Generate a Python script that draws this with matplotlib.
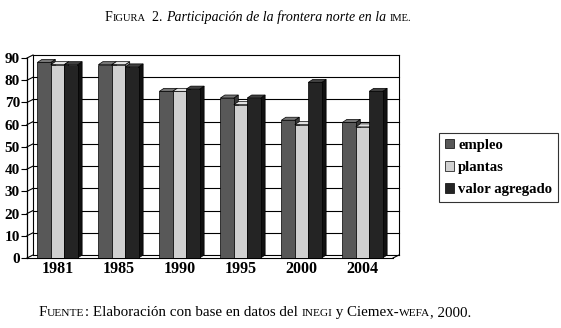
import matplotlib
matplotlib.use("Agg")
import matplotlib.pyplot as plt
from matplotlib.patches import Polygon
import numpy as np

# Data
years = ["1981", "1985", "1990", "1995", "2000", "2004"]
empleo = [88, 87, 75, 72, 62, 61]
plantas = [87, 87, 75, 69, 60, 59]
valor_agregado = [87, 86, 76, 72, 79, 75]
series_names = ["empleo", "plantas", "valor agregado"]
yticks = list(range(0, 100, 10))

colors = ["#585858", "#d0d0d0", "#242424"]
side_colors = ["#383838", "#a0a0a0", "#111111"]
top_colors = ["#767676", "#e2e2e2", "#404040"]

plt.rcParams["font.family"] = ["Liberation Serif", "DejaVu Serif"]

W, H = 561, 328
fig = plt.figure(figsize=(W / 100, H / 100), dpi=100)
fig.patch.set_facecolor("white")

# axes = front plane of the 3D chart (pixels from top-left)
left_px, right_px, top_px, bottom_px = 27, 393, 58, 258
ax = fig.add_axes([left_px / W, 1 - bottom_px / H,
                   (right_px - left_px) / W, (bottom_px - top_px) / H])
ax.set_xlim(-0.5, len(years) - 0.5)
ax.set_ylim(0, 90)
ax.set_facecolor("none")
for s in ["top", "right", "bottom"]:
    ax.spines[s].set_visible(False)
ax.spines["left"].set_linewidth(0.9)

px_x = (right_px - left_px) / (len(years))      # pixels per category
px_y = (bottom_px - top_px) / 90.0              # pixels per unit
wall_dx, wall_dy = 6 / px_x, 3 / px_y
bar_dx, bar_dy = 4.5 / px_x, 3 / px_y

# back wall and gridlines
x_lo, x_hi = -0.5, len(years) - 0.5
for v in yticks:
    ax.plot([x_lo + wall_dx, x_hi + wall_dx], [v + wall_dy, v + wall_dy],
            color="black", lw=0.8, clip_on=False, zorder=1)
    ax.plot([x_lo, x_lo + wall_dx], [v, v + wall_dy],
            color="black", lw=0.8, clip_on=False, zorder=1)
ax.plot([x_lo + wall_dx] * 2, [wall_dy, 90 + wall_dy], color="black", lw=0.8,
        clip_on=False, zorder=1)
ax.plot([x_hi + wall_dx] * 2, [wall_dy, 90 + wall_dy], color="black", lw=0.8,
        clip_on=False, zorder=1)
ax.plot([x_lo, x_hi], [0, 0], color="black", lw=0.8, clip_on=False, zorder=1)
ax.plot([x_hi, x_hi + wall_dx], [0, wall_dy], color="black", lw=0.8,
        clip_on=False, zorder=1)

# 3D-like bars
width = 0.22
x = np.arange(len(years))
all_series = [empleo, plantas, valor_agregado]
for j, vals in enumerate(all_series):
    xs = x + (j - 1) * width
    for xi, h in zip(xs, vals):
        x0, x1 = xi - width / 2, xi + width / 2
        side = Polygon([(x1, 0), (x1 + bar_dx, bar_dy), (x1 + bar_dx, h + bar_dy), (x1, h)],
                       closed=True, fc=side_colors[j], ec="black", lw=0.5,
                       zorder=2 + j * 0.1, clip_on=False)
        top = Polygon([(x0, h), (x1, h), (x1 + bar_dx, h + bar_dy), (x0 + bar_dx, h + bar_dy)],
                      closed=True, fc=top_colors[j], ec="black", lw=0.5,
                      zorder=2 + j * 0.1, clip_on=False)
        ax.add_patch(side)
        ax.add_patch(top)
    ax.bar(xs, vals, width=width, color=colors[j], edgecolor="black",
           linewidth=0.5, zorder=2.05 + j * 0.1, label=series_names[j])

ax.set_yticks(yticks)
ax.set_yticklabels([str(v) for v in yticks], fontsize=11, fontweight="bold")
ax.tick_params(axis="y", length=4, width=0.8, pad=1)
ax.set_xticks(x)
ax.set_xticklabels(years, fontsize=11.5, fontweight="bold")
ax.tick_params(axis="x", length=0, pad=2)

leg = fig.legend(loc="upper left", bbox_to_anchor=(439 / W, 1 - 133 / H),
                 prop={"weight": "bold", "size": 10.6},
                 frameon=True, fancybox=False, handlelength=0.6, handleheight=0.6,
                 handletextpad=0.3, borderpad=0.4, labelspacing=0.62,
                 borderaxespad=0)
leg.get_frame().set_edgecolor("black")
leg.get_frame().set_linewidth(0.8)


def run_text(y, pieces, xc):
    """Place text pieces side by side (small caps emulation), centered at xc."""
    r = fig.canvas.get_renderer()
    objs = []
    for txt, size, style in pieces:
        t = fig.text(0, y, txt, fontsize=size, style=style, va="baseline", ha="left")
        objs.append(t)
    widths = [t.get_window_extent(renderer=r).width for t in objs]
    total = sum(widths)
    xpos = xc * W - total / 2
    for t, w in zip(objs, widths):
        t.set_x(xpos / W)
        xpos += w


run_text(1 - 21 / H, [("F", 10, "normal"), ("IGURA", 7.6, "normal"),
                      ("\u00a0 2. ", 10, "normal"),
                      ("Participación de la frontera norte en la\u00a0", 10, "italic"),
                      ("IME.", 7.6, "normal")], 258 / W)
run_text(1 - 316 / H, [("F", 10.8, "normal"), ("UENTE", 8.2, "normal"),
                       (": Elaboración con base en datos del\u00a0", 10.8, "normal"),
                       ("INEGI", 8.2, "normal"), ("\u00a0y Ciemex-", 10.8, "normal"),
                       ("WEFA", 8.2, "normal"), (", 2000.", 10.8, "normal")], 255 / W)

fig.savefig("out.png", dpi=100, facecolor="white")
